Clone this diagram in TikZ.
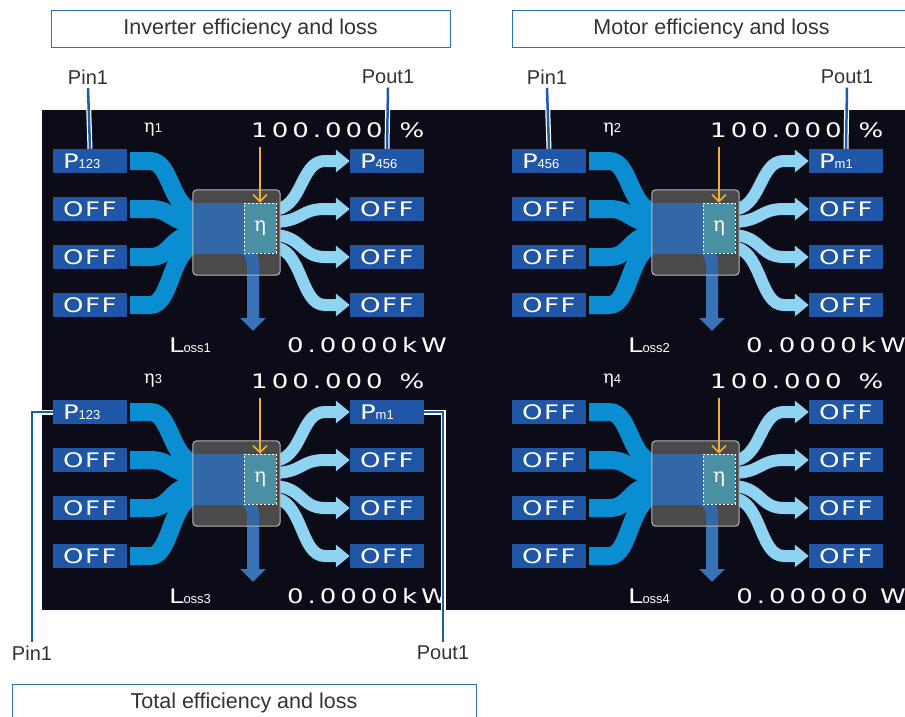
\documentclass[tikz,border=0pt]{standalone}
\usepackage{fontspec}
\setmainfont{Liberation Sans}
\newfontfamily\scrfont[FakeStretch=1.3,LetterSpace=8]{DejaVu Sans}
\newfontfamily\numfont[FakeStretch=1.3,LetterSpace=20]{DejaVu Sans}
\newfontfamily\etafont{DejaVu Serif}
\usetikzlibrary{arrows.meta,calc}

\definecolor{screen}{HTML}{0C0C18}
\definecolor{boxblue}{HTML}{1F56A5}
\definecolor{inflow}{HTML}{0A8ED1}
\definecolor{outflow}{HTML}{8FD3F3}
\definecolor{coregray}{HTML}{4A4A4A}
\definecolor{coreedge}{HTML}{B8B8B8}
\definecolor{coreblue}{HTML}{3368A8}
\definecolor{etacol}{HTML}{4B8FA3}
\definecolor{lossblue}{HTML}{3773B6}
\definecolor{etayellow}{HTML}{F2B132}
\definecolor{callout}{HTML}{1A5DB0}
\definecolor{titleedge}{HTML}{2F6DB5}
\definecolor{textgray}{HTML}{333333}

\newcommand{\scrsub}[1]{{\rmfamily\fontsize{13}{13}\selectfont #1}}

\tikzset{
  scrbox/.style={fill=boxblue, text=white, text width=54pt, inner xsep=10pt,
    minimum height=24pt, inner ysep=0pt, align=flush left,
    font=\scrfont\fontsize{20}{20}\selectfont},
  scrtext/.style={text=white, inner sep=0pt, font=\scrfont\fontsize{20}{20}\selectfont},
  numtext/.style={text=white, inner sep=0pt, font=\numfont\fontsize{20}{20}\selectfont},
  inflow/.style={draw=inflow, line width=18pt},
  outflow/.style={draw=outflow, line width=12pt, -{Triangle[length=14pt,width=22pt]}},
  lossflow/.style={draw=lossblue, line width=12pt, -{Triangle[length=13pt,width=25pt]}},
  corebox/.style={fill=coregray, minimum width=87pt, minimum height=85pt,
    rounded corners=4pt, inner sep=0pt},
  coreframe/.style={draw=coreedge, line width=1pt, rounded corners=4pt},
  etabox/.style={fill=etacol, draw=white, dash pattern=on 2pt off 2pt, line width=0.8pt,
    minimum width=32pt, minimum height=50pt, inner sep=0pt, text=white,
    font=\etafont\fontsize{20}{20}\selectfont},
  etaarrow/.style={draw=etayellow, line width=1.5pt, -{Straight Barb[length=7pt,width=14pt]}},
  callline/.style={draw=callout, line width=2.5pt, preaction={draw=white, line width=5pt}},
  calltext/.style={text=textgray, font=\fontsize{20}{20}\selectfont},
  titlebox/.style={draw=titleedge, line width=0.8pt, fill=white},
  titletext/.style={text=textgray, font=\fontsize{21.5}{21.5}\selectfont}
}

% one screen panel: name, x shift, y shift, eta index, first input, first output, loss index, loss value
\newcommand{\effpanel}[8]{%
\begin{scope}[shift={(#2,#3)}]
% boxes left and right
\foreach \k/\lin/\lout in {1/{#5}/{#6},2/OFF/OFF,3/OFF/OFF,4/OFF/OFF} {
  \node[scrbox] (#1in\k) at (90,{161+48*(\k-1)}) {\lin};
  \node[scrbox] (#1out\k) at (387,{161+48*(\k-1)}) {\lout};
}
% streams
\foreach \k/\e/\f in {1/212/210,2/223/222,3/234/235,4/245/247} {
  \draw[inflow] ($(#1in\k.east)+(3,0)$) -- ++(20,0)
    .. controls ++(22,0) and (170,\e) .. (198,\e);
  \draw[outflow] (272,\f) .. controls (303,\f) and ($(#1out\k.west)+(-50,0)$)
    .. ($(#1out\k.west)+(-25,0)$) -- (#1out\k.west);
}
% core
\node[corebox] (#1core) at (236.5,232.5) {};
\fill[coreblue] (193,203) rectangle (244,254);
\draw[lossflow] (232,247) -- (238,247) to[out=0,in=90] (253,264) -- (253,331);
\begin{scope}
\clip (#1core.north west) rectangle (#1core.south east);
\draw[coreblue, line width=12pt] (232,247) -- (238,247) to[out=0,in=90] (253,264) -- (253,290);
\end{scope}
\node[etabox] (#1eta) at (260,228) {η};
\coordinate (#1etatop) at (260,147);
\draw[etaarrow] (#1etatop) -- (#1eta.north);
\draw[coreframe] (#1core.north west) rectangle (#1core.south east);
% readings
\node[scrtext] (#1etalbl) at (153,130) {{\etafont\fontsize{18}{18}\selectfont η}\scrsub{#4}};
\node[numtext] (#1pct) at (317,130) {100.000};
\node[scrtext] (#1pcts) at (412,130) {\%};
\node[scrtext] (#1loss) at (190,345) {L\scrsub{oss#7}};
\node[numtext, anchor=east] (#1val) at (447,345) {#8};
\end{scope}}

\begin{document}
\begin{tikzpicture}[x=1pt,y=-1pt]
\useasboundingbox[fill=white] (0,0) rectangle (905,717);
\fill[screen] (42,110) rectangle (905,610);

\effpanel{a}{0}{0}{1}{P\scrsub{123}}{P\scrsub{456}}{1}{0.0000kW}
\effpanel{b}{459}{0}{2}{P\scrsub{456}}{P\scrsub{m1}}{2}{0.0000kW}
\effpanel{c}{0}{251}{3}{P\scrsub{123}}{P\scrsub{m1}}{3}{0.0000kW}
\effpanel{d}{459}{251}{4}{OFF}{OFF}{4}{0.00000 W}

% titles
\node[titlebox, minimum width=399pt, minimum height=37pt] (tinv) at (250.5,28.5) {};
\node[titletext] (tinvt) at (tinv) {Inverter efficiency and loss};
\node[titlebox, minimum width=399pt, minimum height=37pt] (tmot) at (711.5,28.5) {};
\node[titletext] (tmott) at (tmot) {Motor efficiency and loss};
\node[titlebox, minimum width=464pt, minimum height=50pt] (ttot) at (244,709) {};
\node[titletext] (ttott) at (244,703) {Total efficiency and loss};

% callouts
\node[calltext] (lpina) at (88,77) {Pin1};
\node[calltext] (lpouta) at (388,77) {Pout1};
\node[calltext] (lpinb) at (547,77) {Pin1};
\node[calltext] (lpoutb) at (847,77) {Pout1};
\draw[callline] (lpina.south) -- (ain1.north);
\draw[callline] (lpouta.south) -- (aout1.north);
\draw[callline] (lpinb.south) -- (bin1.north);
\draw[callline] (lpoutb.south) -- (bout1.north);
\node[calltext] (lpinc) at (32,653) {Pin1};
\node[calltext] (lpoutc) at (443,653) {Pout1};
\draw[callline] (cin1.west) -| (lpinc.north);
\draw[callline] (cout1.east) -| (lpoutc.north);
\end{tikzpicture}
\end{document}
